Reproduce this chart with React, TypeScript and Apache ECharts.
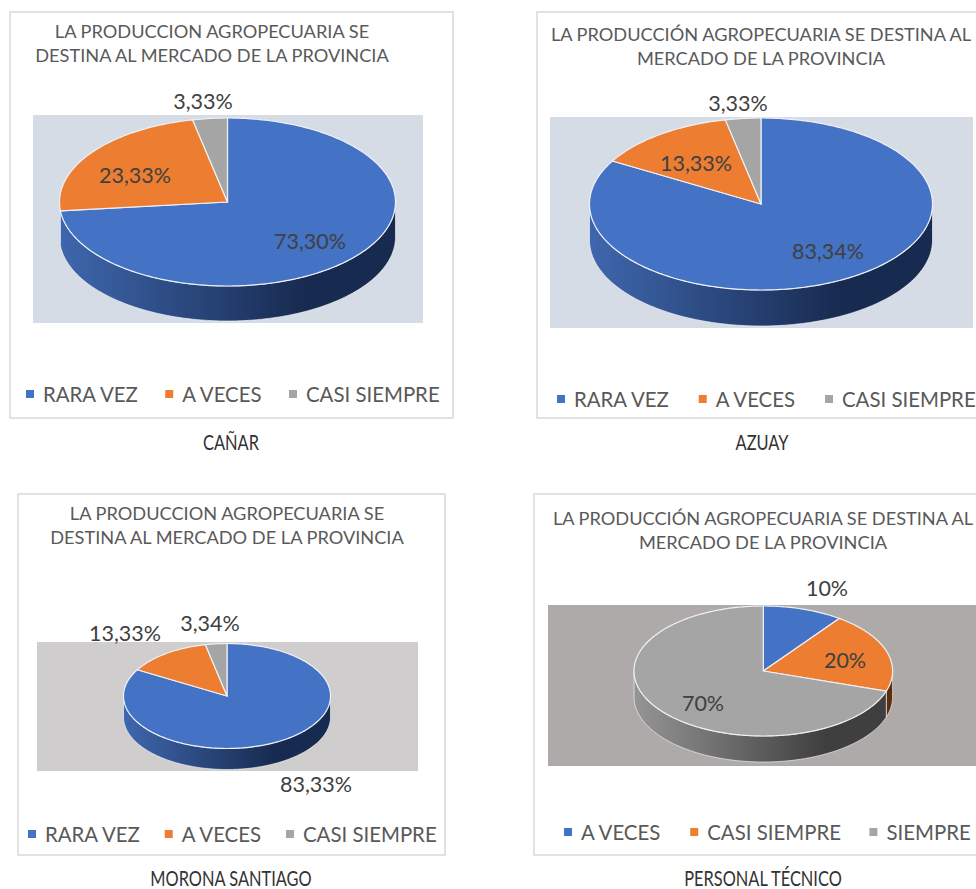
import React, { useEffect, useRef } from "react";
import * as echarts from "echarts";

const titleNoAccent = "LA PRODUCCION AGROPECUARIA SE\nDESTINA AL MERCADO DE LA PROVINCIA";
const titleAccent = "LA PRODUCCIÓN AGROPECUARIA SE DESTINA AL\nMERCADO DE LA PROVINCIA";

const provinceNames = ["CAÑAR", "AZUAY", "MORONA SANTIAGO", "PERSONAL TÉCNICO"];
const categoriesProvince = ["RARA VEZ", "A VECES", "CASI SIEMPRE"];
const categoriesStaff = ["A VECES", "CASI SIEMPRE", "SIEMPRE"];
const canarValues = [73.3, 23.33, 3.33];
const azuayValues = [83.34, 13.33, 3.33];
const moronaValues = [83.33, 13.33, 3.34];
const staffValues = [10, 20, 70];

const BLUE = "#4472c4";
const ORANGE = "#ed7d31";
const GRAY = "#a5a5a5";
const FONT = "Lato";

const SIDE: Record<string, [string, string]> = {
  [BLUE]: ["#3f67ae", "#172a4f"],
  [ORANGE]: ["#9a5a28", "#5b2e0c"],
  [GRAY]: ["#959595", "#3f3f3f"],
};

const charts = [
  {
    values: canarValues, cats: categoriesProvince, colors: [BLUE, ORANGE, GRAY], decimals: 2,
    title: titleNoAccent, titleX: 212, titleY: 19, caption: provinceNames[0], captionX: 231, captionY: 442,
    box: [10, 12, 443, 406], plot: [33, 115, 390, 208], plotColor: "#d6dce5",
    cx: 227.5, cy: 202, rx: 168, ry: 84, depth: 35,
    labels: [[310, 241], [135, 175], [203, 101]],
    legend: [26, 384], legendGap: 26,
  },
  {
    values: azuayValues, cats: categoriesProvince, colors: [BLUE, ORANGE, GRAY], decimals: 2,
    title: titleAccent, titleX: 761, titleY: 22, caption: provinceNames[1], captionX: 762, captionY: 442,
    box: [537, 12, 460, 406], plot: [550, 117, 423, 211], plotColor: "#d6dce5",
    cx: 761, cy: 204, rx: 171.5, ry: 86, depth: 36,
    labels: [[828, 251], [696, 163], [738, 103]],
    legend: [557, 389], legendGap: 28.5,
  },
  {
    values: moronaValues, cats: categoriesProvince, colors: [BLUE, ORANGE, GRAY], decimals: 2,
    title: titleNoAccent, titleX: 227, titleY: 501, caption: provinceNames[2], captionX: 231, captionY: 878,
    box: [18, 494, 427, 361], plot: [37, 642, 381, 129], plotColor: "#cfcdcd",
    cx: 227, cy: 696, rx: 103.5, ry: 52.5, depth: 21,
    labels: [[316, 784], [125, 633], [210, 623]],
    legend: [28, 824], legendGap: 23.5,
  },
  {
    values: staffValues, cats: categoriesStaff, colors: [BLUE, ORANGE, GRAY], decimals: 0,
    title: titleAccent, titleX: 763, titleY: 506, caption: provinceNames[3], captionX: 763, captionY: 878,
    box: [534, 494, 460, 361], plot: [548, 605, 440, 161], plotColor: "#aeaaaa",
    cx: 763.3, cy: 671, rx: 129.3, ry: 65, depth: 26,
    labels: [[827, 588], [845, 660], [703, 703]],
    legend: [564, 822], legendGap: 28.5,
  },
];

const formatPct = (v: number, d: number) => v.toFixed(d).replace(".", ",") + "%";

function arc(c: any, a0: number, a1: number, dy = 0) {
  const n = Math.max(2, Math.ceil(Math.abs(a1 - a0) / (Math.PI / 180)));
  const pts: number[][] = [];
  for (let k = 0; k <= n; k++) {
    const a = a0 + ((a1 - a0) * k) / n;
    pts.push([c.cx + c.rx * Math.sin(a), c.cy - c.ry * Math.cos(a) + dy]);
  }
  return pts;
}

function buildSeries() {
  const series: any[] = [];
  charts.forEach((c) => {
    const total = c.values.reduce((s, v) => s + v, 0);
    let acc = 0;
    c.values.forEach((v, i) => {
      const a0 = (acc / total) * Math.PI * 2;
      acc += v;
      const a1 = (acc / total) * Math.PI * 2;
      const color = c.colors[i];
      series.push({
        type: "custom",
        name: c.cats[i],
        coordinateSystem: "none",
        silent: true,
        data: [[v]],
        renderItem: (_p: any, api: any) => {
          const value = api.value(0);
          const children: any[] = [];
          const s0 = Math.max(a0, Math.PI / 2);
          const s1 = Math.min(a1, (Math.PI * 3) / 2);
          if (s1 - s0 > 0.15) {
            const top = arc(c, s0, s1);
            const bottom = arc(c, s1, s0, c.depth);
            children.push({
              type: "polygon",
              z2: 1,
              shape: { points: [...top, ...bottom] },
              style: {
                fill: {
                  type: "linear", x: c.cx - c.rx, y: 0, x2: c.cx + c.rx, y2: 0, global: true,
                  colorStops: [
                    { offset: 0, color: SIDE[color][0] },
                    { offset: 0.74, color: SIDE[color][1] },
                    { offset: 1, color: SIDE[color][1] },
                  ],
                },
                stroke: "rgba(255,255,255,0.6)",
                lineWidth: 1,
              },
            });
          }
          children.push({
            type: "polygon",
            z2: 2,
            shape: { points: [[c.cx, c.cy], ...arc(c, a0, a1)] },
            style: { fill: color, stroke: "#eef1f6", lineWidth: 1.2 },
          });
          children.push({
            type: "text",
            z2: 3,
            x: c.labels[i][0],
            y: c.labels[i][1],
            style: {
              text: formatPct(value, c.decimals),
              font: `21.5px ${FONT}`,
              fontFamily: FONT,
              fontSize: 21.5,
              fill: "#404040",
              align: "center",
              verticalAlign: "middle",
            },
          });
          return { type: "group", children };
        },
      });
    });
  });
  return series;
}

function buildOption() {
  return {
    animation: false,
    backgroundColor: "#ffffff",
    title: charts.map((c) => ({
      text: c.title, left: c.titleX, top: c.titleY, textAlign: "center", padding: 0,
      textStyle: { fontFamily: FONT, fontSize: 18.2, fontWeight: "normal", color: "#595959", lineHeight: 24 },
    })),
    legend: charts.map((c) => ({
      left: c.legend[0],
      top: c.legend[1],
      width: 600,
      padding: 0,
      orient: "horizontal",
      icon: "rect",
      itemWidth: 8,
      itemHeight: 8,
      itemGap: c.legendGap,
      selectedMode: false,
      data: c.cats.map((name, i) => ({ name, itemStyle: { color: c.colors[i] } })),
      textStyle: { fontFamily: FONT, fontSize: 20.4, color: "#595959", padding: [0, 0, 0, 4] },
    })),
    graphic: {
      elements: charts.flatMap((c) => [
        {
          type: "rect",
          silent: true,
          shape: { x: c.box[0], y: c.box[1], width: c.box[2], height: c.box[3] },
          style: { fill: "#ffffff", stroke: "#d9d9d9", lineWidth: 1.5 },
        },
        {
          type: "rect",
          silent: true,
          shape: { x: c.plot[0], y: c.plot[1], width: c.plot[2], height: c.plot[3] },
          style: { fill: c.plotColor },
        },
        {
          type: "text",
          silent: true,
          x: c.captionX,
          y: c.captionY,
          scaleX: 0.8,
          style: {
            text: c.caption,
            font: `20.5px ${FONT}`,
            fill: "#333333",
            align: "center",
            verticalAlign: "middle",
          },
        },
      ]),
    },
    series: buildSeries(),
  };
}

export default function App() {
  const ref = useRef<HTMLDivElement>(null);
  useEffect(() => {
    document.body.style.margin = "0";
    document.body.style.overflow = "hidden";
    const chart = echarts.init(ref.current!, null, { renderer: "svg" });
    chart.setOption(buildOption() as any);
    return () => chart.dispose();
  }, []);
  return <div ref={ref} style={{ position: "fixed", left: 0, top: 0, width: 976, height: 889 }} />;
}
